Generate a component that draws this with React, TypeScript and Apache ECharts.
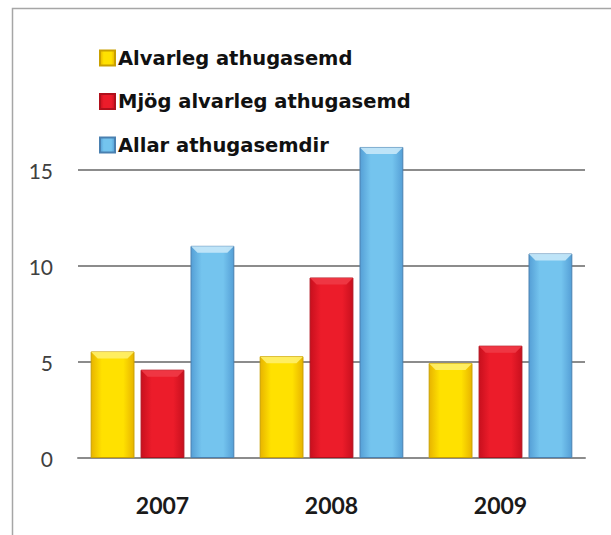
import React, { useEffect, useRef } from "react";
import * as echarts from "echarts";

const categories = ["2007", "2008", "2009"];
const seriesNames = ["Alvarleg athugasemd", "Mjög alvarleg athugasemd", "Allar athugasemdir"];
const alvarleg = [5.55, 5.3, 4.95];
const mjogAlvarleg = [4.6, 9.4, 5.85];
const allar = [11.05, 16.2, 10.65];
const yTicks = { min: 0, max: 15, interval: 5 };

const palettes = [
  { edge: "#E8B400", mid: "#FFE100", border: "#C9A000", top: "#FFF06A" },
  { edge: "#C8101E", mid: "#EC1C2A", border: "#B0101C", top: "#F03A46" },
  { edge: "#559FD6", mid: "#74C4EE", border: "#4A80B0", top: "#C6E8F8" },
];

function grad(p: { edge: string; mid: string }) {
  return new echarts.graphic.LinearGradient(0, 0, 1, 0, [
    { offset: 0, color: p.edge },
    { offset: 0.25, color: p.mid },
    { offset: 0.75, color: p.mid },
    { offset: 1, color: p.edge },
  ]);
}

const BAR_GAP = 0.14;
const CAT_GAP = 0.15;

export default function App() {
  const ref = useRef<HTMLDivElement>(null);
  useEffect(() => {
    if (!ref.current) return;
    const chart = echarts.init(ref.current, undefined, { renderer: "svg" });
    const data = [alvarleg, mjogAlvarleg, allar];
    const bevelData: number[][] = [];
    data.forEach((arr, s) => arr.forEach((v, c) => bevelData.push([c, v, s])));
    chart.setOption({
      animation: false,
      backgroundColor: "#ffffff",
      graphic: [
        {
          type: "polyline",
          shape: { points: [[12.5, 540], [12.5, 8.5], [620, 8.5]] },
          style: { stroke: "#a6a6a6", lineWidth: 1.5, fill: null },
          silent: true,
        },
      ],
      legend: {
        orient: "vertical",
        left: 94,
        top: 43,
        itemWidth: 15,
        itemHeight: 15,
        itemGap: 23.5,
        icon: "rect",
        textStyle: {
          fontFamily: "DejaVu Sans",
          fontWeight: "bold",
          fontSize: 19.5,
          lineHeight: 20,
          color: "#111",
          padding: [0, 0, 0, -2],
        },
        data: seriesNames,
      },
      grid: { left: 78, right: 26, top: 170, bottom: 77 },
      xAxis: {
        type: "category",
        data: categories,
        axisLine: { show: true, lineStyle: { color: "#8c8c8c", width: 2 } },
        axisTick: { show: false },
        axisLabel: { fontFamily: "Lato", fontWeight: "bold", fontSize: 23, color: "#1a1a1a", margin: 35 },
      },
      yAxis: {
        type: "value",
        min: yTicks.min,
        max: yTicks.max,
        interval: yTicks.interval,
        axisLine: { show: false },
        axisTick: { show: false },
        splitLine: { lineStyle: { color: "#8c8c8c", width: 2 } },
        axisLabel: { fontFamily: "Lato", fontSize: 21, color: "#404040", margin: 25 },
      },
      series: [
        ...seriesNames.map((name, i) => ({
          name,
          type: "bar",
          data: data[i],
          clip: false,
          barGap: `${BAR_GAP * 100}%`,
          barCategoryGap: `${CAT_GAP * 100}%`,
          itemStyle: { color: grad(palettes[i]), borderColor: palettes[i].border, borderWidth: 1 },
        })),
        {
          name: "bevel",
          type: "custom",
          data: bevelData,
          encode: { x: 0, y: 1 },
          silent: true,
          z: 5,
          renderItem: (_params: any, api: any) => {
            const c = api.value(0);
            const v = api.value(1);
            const s = api.value(2);
            const band = api.size([1, 0])[0];
            const used = band * (1 - CAT_GAP);
            const w = used / (3 + 2 * BAR_GAP);
            const center = api.coord([c, 0]);
            const top = api.coord([c, v])[1];
            const x0 = center[0] - used / 2 + s * w * (1 + BAR_GAP);
            const x1 = x0 + w;
            const inset = Math.min(7, w / 4);
            const h = 7;
            return {
              type: "polygon",
              shape: {
                points: [
                  [x0 + 0.5, top + 0.5],
                  [x1 - 0.5, top + 0.5],
                  [x1 - inset, top + h],
                  [x0 + inset, top + h],
                ],
              },
              style: { fill: palettes[s].top, opacity: 0.9 },
            };
          },
        },
      ],
    });
    return () => chart.dispose();
  }, []);
  return <div ref={ref} style={{ position: "fixed", left: 0, top: 0, width: 611, height: 535 }} />;
}
